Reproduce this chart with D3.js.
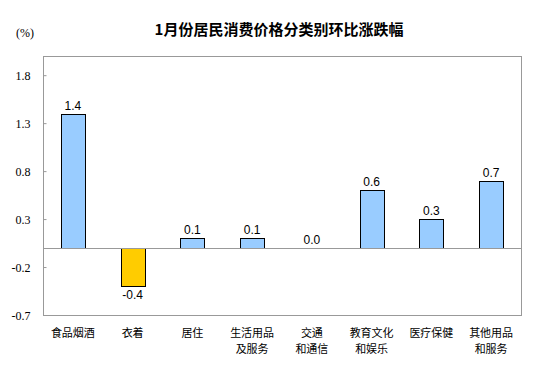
<!DOCTYPE html>
<html><head><meta charset="utf-8">
<script src="https://cdn.jsdelivr.net/npm/d3@7"></script>
<style>body{margin:0;background:#fff;}svg{display:block;}</style>
</head><body>
<script>
const categories = [["食品烟酒"],["衣着"],["居住"],["生活用品","及服务"],["交通","和通信"],["教育文化","和娱乐"],["医疗保健"],["其他用品","和服务"]];
const values = [1.4,-0.4,0.1,0.1,0.0,0.6,0.3,0.7];
const tickValues = [-0.7,-0.2,0.3,0.8,1.3,1.8];
const title = "1月份居民消费价格分类别环比涨跌幅";
const unit = "(%)";

const W=554,H=380;
const m={left:43,right:521,top:56,bottom:315};
const fmt=d=>d3.format(".1f")(d).replace("\u2212","-");
const svg=d3.select("body").append("svg").attr("width",W).attr("height",H);
const x=d3.scaleBand().domain(d3.range(categories.length)).range([m.left,m.right]).paddingInner(0.6).paddingOuter(0.3);
const y=d3.scaleLinear().domain([-0.7,2.0]).range([m.bottom,m.top]);

svg.append("text").attr("x",279).attr("y",35).attr("text-anchor","middle")
  .attr("font-family","'Noto Sans CJK SC'").attr("font-size",15).attr("font-weight","bold").attr("fill","#000").text(title);
svg.append("text").attr("x",25).attr("y",37).attr("text-anchor","middle")
  .attr("font-family","'Liberation Serif'").attr("font-size",12).text(unit);

// frame
svg.append("rect").attr("x",m.left+0.5).attr("y",m.top+0.5).attr("width",m.right-m.left).attr("height",m.bottom-m.top)
  .attr("fill","none").attr("stroke","#999");

// y axis
const yAxis=d3.axisRight(y).tickValues(tickValues).tickSize(3).tickFormat(fmt);
const ga=svg.append("g").attr("transform",`translate(${m.left+0.5},0)`).call(yAxis);
ga.select(".domain").remove();
ga.selectAll(".tick line").attr("stroke","#999");
ga.selectAll(".tick text").attr("x",-13).attr("text-anchor","end").attr("dy","0.35em")
  .attr("font-family","'Liberation Serif'").attr("font-size",12).attr("fill","#000");

// bars
svg.selectAll("rect.bar").data(values).enter().append("rect").attr("class","bar")
  .attr("x",(d,i)=>Math.round(x(i))+0.5).attr("width",Math.round(x.bandwidth()))
  .attr("y",d=>Math.round(y(Math.max(0,d)))+0.5).attr("height",d=>Math.abs(Math.round(y(d))-Math.round(y(0))))
  .attr("fill",d=>d<0?"#FFCC00":"#99CCFF").attr("stroke",d=>d===0?"none":"#000").attr("stroke-width",1);

// zero line
svg.append("line").attr("x1",m.left).attr("x2",m.right).attr("y1",Math.round(y(0))+0.5).attr("y2",Math.round(y(0))+0.5).attr("stroke","#999");

// value labels
svg.selectAll("text.val").data(values).enter().append("text").attr("class","val")
  .attr("x",(d,i)=>x(i)+x.bandwidth()/2).attr("y",d=>d<0?y(d)+13:y(d)-4)
  .attr("text-anchor","middle").attr("font-family","'Liberation Sans'").attr("font-size",12).attr("fill","#000")
  .text(fmt);

// category labels (one text per line)
const catLines=[];
categories.forEach((lines,i)=>lines.forEach((t,j)=>catLines.push({i,j,t})));
svg.selectAll("text.cat").data(catLines).enter().append("text").attr("class","cat")
  .attr("x",d=>x(d.i)+x.bandwidth()/2).attr("y",d=>337+d.j*16).attr("text-anchor","middle")
  .attr("font-family","'Noto Sans CJK SC'").attr("font-size",11).attr("fill","#000").text(d=>d.t);
</script>
</body></html>
